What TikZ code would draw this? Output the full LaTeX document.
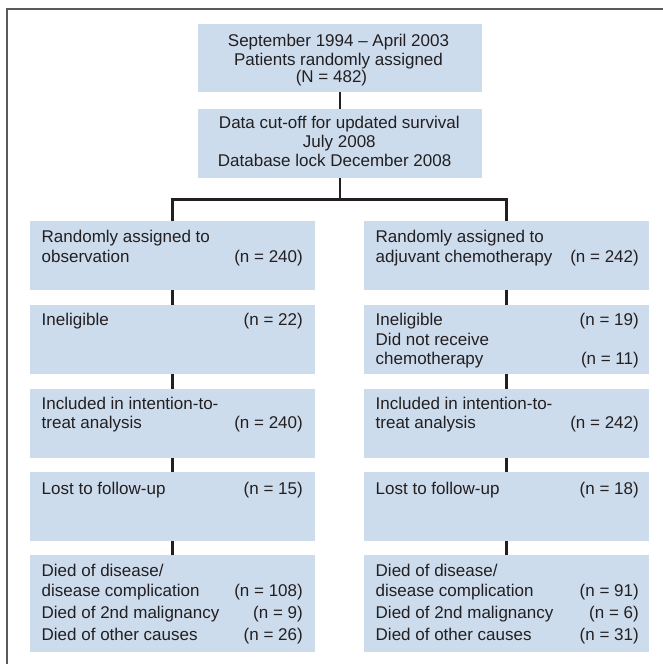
\documentclass[tikz,border=0pt]{standalone}
\usepackage{fontspec}
\setmainfont{Liberation Sans}
\usetikzlibrary{calc}
\definecolor{boxblue}{RGB}{204,220,237}
\definecolor{ink}{RGB}{35,31,32}
\definecolor{framegray}{RGB}{90,90,92}
\tikzset{
  box/.style={rectangle, fill=boxblue, draw=none, inner sep=0pt, anchor=north west,
    minimum width=285pt, minimum height=68.5pt},
  tallbox/.style={box, minimum height=97pt},
  lbl/.style={inner sep=0pt, text=ink, font=\fontsize{17}{19.5}\selectfont, anchor=base west},
  cnt/.style={lbl, anchor=base east},
  ctr/.style={lbl, anchor=base},
  conn/.style={draw=ink, line width=2.6pt, line join=miter},
  framed/.style={draw=framegray, line width=1.7pt},
}
\begin{document}
\begin{tikzpicture}[x=1pt,y=-1pt]
\useasboundingbox (0,0) rectangle (663,664);
% frame (top and left only)
\coordinate (fr1) at (663,9);
\coordinate (fr2) at (7,9);
\coordinate (fr3) at (7,664);
\draw[framed] (fr1) -- (fr2) -- (fr3);

% top boxes
\node[box, minimum width=284.5pt, minimum height=68.4pt] (top) at (197.5,23.3) {};
\node[ctr] (top1) at (338.5,46.7) {September 1994 – April 2003};
\node[ctr] (top2) at (338.5,65) {Patients randomly assigned};
\node[ctr] (top3) at (331.5,82.5) {(N = 482)};

\node[box, minimum width=284.5pt, minimum height=68.3pt] (mid) at (197.5,109) {};
\node[ctr] (mid1) at (339.3,128) {Data cut-off for updated survival};
\node[ctr] (mid2) at (339.3,147.3) {July 2008};
\node[lbl] (mid3) at (217.7,166) {Database lock December 2008};

% left column
\node[box] (a1) at (30,221) {};
\node[box] (a2) at (30,305) {};
\node[box] (a3) at (30,389) {};
\node[box] (a4) at (30,472) {};
\node[tallbox] (a5) at (30,555) {};

% right column
\node[box] (b1) at (364,221) {};
\node[box] (b2) at (364,305) {};
\node[box] (b3) at (364,389) {};
\node[box] (b4) at (364,472) {};
\node[tallbox] (b5) at (364,555) {};

% left texts
\node[lbl] (a1t1) at ($(a1.north west)+(11.5,21.5)$) {Randomly assigned to};
\node[lbl] (a1t2) at ($(a1.north west)+(11.5,41)$) {observation};
\node[cnt] (a1c)  at ($(a1.north west)+(273,41)$) {(n = 240)};

\node[lbl] (a2t1) at ($(a2.north west)+(11.5,20)$) {Ineligible};
\node[cnt] (a2c)  at ($(a2.north west)+(273,20)$) {(n = 22)};

\node[lbl] (a3t1) at ($(a3.north west)+(11.5,20)$) {Included in intention-to-};
\node[lbl] (a3t2) at ($(a3.north west)+(11.5,39.5)$) {treat analysis};
\node[cnt] (a3c)  at ($(a3.north west)+(273,39.5)$) {(n = 240)};

\node[lbl] (a4t1) at ($(a4.north west)+(11.5,22)$) {Lost to follow-up};
\node[cnt] (a4c)  at ($(a4.north west)+(273,22)$) {(n = 15)};

\node[lbl] (a5t1) at ($(a5.north west)+(11.5,21)$) {Died of disease/};
\node[lbl] (a5t2) at ($(a5.north west)+(11.5,41)$) {disease complication};
\node[cnt] (a5c2) at ($(a5.north west)+(273,41)$) {(n = 108)};
\node[lbl] (a5t3) at ($(a5.north west)+(11.5,63.5)$) {Died of 2nd malignancy};
\node[cnt] (a5c3) at ($(a5.north west)+(273,63.5)$) {(n = 9)};
\node[lbl] (a5t4) at ($(a5.north west)+(11.5,85.5)$) {Died of other causes};
\node[cnt] (a5c4) at ($(a5.north west)+(273,85.5)$) {(n = 26)};

% right texts
\node[lbl] (b1t1) at ($(b1.north west)+(11.5,21.5)$) {Randomly assigned to};
\node[lbl] (b1t2) at ($(b1.north west)+(11.5,41)$) {adjuvant chemotherapy};
\node[cnt] (b1c)  at ($(b1.north west)+(275,41)$) {(n = 242)};

\node[lbl] (b2t1) at ($(b2.north west)+(11.5,20)$) {Ineligible};
\node[cnt] (b2c1) at ($(b2.north west)+(275,20)$) {(n = 19)};
\node[lbl] (b2t2) at ($(b2.north west)+(11.5,40.5)$) {Did not receive};
\node[lbl] (b2t3) at ($(b2.north west)+(11.5,59.5)$) {chemotherapy};
\node[cnt] (b2c3) at ($(b2.north west)+(275,59.5)$) {(n = 11)};

\node[lbl] (b3t1) at ($(b3.north west)+(11.5,20)$) {Included in intention-to-};
\node[lbl] (b3t2) at ($(b3.north west)+(11.5,39.5)$) {treat analysis};
\node[cnt] (b3c)  at ($(b3.north west)+(275,39.5)$) {(n = 242)};

\node[lbl] (b4t1) at ($(b4.north west)+(11.5,22)$) {Lost to follow-up};
\node[cnt] (b4c)  at ($(b4.north west)+(275,22)$) {(n = 18)};

\node[lbl] (b5t1) at ($(b5.north west)+(11.5,21)$) {Died of disease/};
\node[lbl] (b5t2) at ($(b5.north west)+(11.5,41)$) {disease complication};
\node[cnt] (b5c2) at ($(b5.north west)+(275,41)$) {(n = 91)};
\node[lbl] (b5t3) at ($(b5.north west)+(11.5,63.5)$) {Died of 2nd malignancy};
\node[cnt] (b5c3) at ($(b5.north west)+(275,63.5)$) {(n = 6)};
\node[lbl] (b5t4) at ($(b5.north west)+(11.5,85.5)$) {Died of other causes};
\node[cnt] (b5c4) at ($(b5.north west)+(275,85.5)$) {(n = 31)};

% connectors
\coordinate (split) at ($(mid.south)+(0,22)$);
\draw[conn] (top.south) -- (mid.north);
\draw[conn] (mid.south) -- (split);
\draw[conn] (a1.north) |- (split) -| (b1.north);
\draw[conn] (a1.south) -- (a2.north);
\draw[conn] (a2.south) -- (a3.north);
\draw[conn] (a3.south) -- (a4.north);
\draw[conn] (a4.south) -- (a5.north);
\draw[conn] (b1.south) -- (b2.north);
\draw[conn] (b2.south) -- (b3.north);
\draw[conn] (b3.south) -- (b4.north);
\draw[conn] (b4.south) -- (b5.north);
\end{tikzpicture}
\end{document}
